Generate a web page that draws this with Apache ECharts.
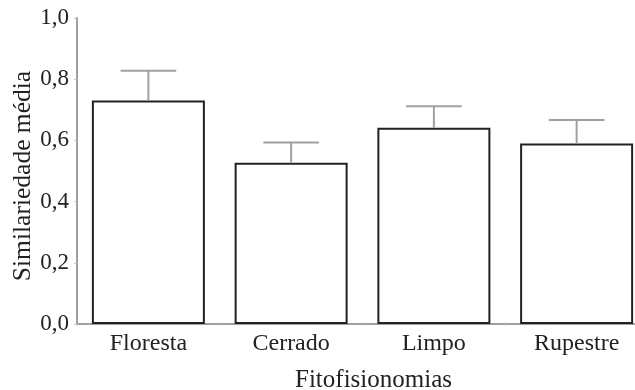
<!DOCTYPE html>
<html>
<head>
<meta charset="utf-8">
<script src="https://cdn.jsdelivr.net/npm/echarts@6/dist/echarts.min.js"></script>
<style>
  html, body { margin: 0; padding: 0; background: #fff; }
  #chart { width: 635px; height: 390px; }
</style>
</head>
<body>
<div id="chart"></div>
<script>
// Mean similarity per vegetation type, with the upper error bar length
const categories = ['Floresta', 'Cerrado', 'Limpo', 'Rupestre'];
const means = [0.730, 0.527, 0.641, 0.590];
const errors = [0.098, 0.066, 0.071, 0.077];
const yTickLabels = ['0,0', '0,2', '0,4', '0,6', '0,8', '1,0'];

const FONT = 'Liberation Serif';
const AXIS_GRAY = '#a0a0a0';

const errorData = categories.map((c, i) => [i, means[i], means[i] + errors[i]]);

const chart = echarts.init(document.getElementById('chart'), null, { renderer: 'canvas' });

chart.setOption({
  animation: false,
  backgroundColor: '#ffffff',
  grid: {
    left: 77, right: -13, top: 18, bottom: 66,
    containLabel: false, outerBoundsMode: 'none'
  },
  xAxis: {
    type: 'category',
    data: categories,
    name: 'Fitofisionomias',
    nameLocation: 'middle',
    nameGap: 44,
    nameTextStyle: { fontFamily: FONT, fontSize: 25, color: '#222', padding: [0, 0, 0, 22] },
    axisLine: { lineStyle: { color: AXIS_GRAY, width: 2 } },
    axisTick: { show: true, length: 2, lineStyle: { color: '#c8c8c8', width: 1 } },
    axisLabel: { fontFamily: FONT, fontSize: 24, color: '#222', margin: 8 }
  },
  yAxis: {
    type: 'value',
    min: 0,
    max: 1,
    interval: 0.2,
    name: 'Similariedade média',
    nameLocation: 'middle',
    nameMoveOverlap: false,
    nameGap: 41,
    nameTextStyle: { fontFamily: FONT, fontSize: 25.5, color: '#222', padding: [0, 10, 0, 0] },
    axisLine: { show: true, lineStyle: { color: AXIS_GRAY, width: 2 } },
    axisTick: { show: true, length: 3, inside: false, lineStyle: { color: '#c8c8c8', width: 1 } },
    splitLine: { show: false },
    axisLabel: {
      fontFamily: FONT, fontSize: 23, color: '#222', margin: 8, padding: [3, 0, 0, 0],
      formatter: (v) => yTickLabels[Math.round(v / 0.2)]
    }
  },
  series: [
    {
      type: 'bar',
      data: means,
      barWidth: 113,
      itemStyle: { color: '#ffffff', borderColor: '#222222', borderWidth: 2 },
      z: 2
    },
    {
      type: 'custom',
      data: errorData,
      z: 3,
      renderItem: function (params, api) {
        const x = api.value(0);
        const base = api.coord([x, api.value(1)]);
        const top = api.coord([x, api.value(2)]);
        const half = api.size([1, 0])[0] * 0.195;
        const style = { stroke: '#a0a0a0', lineWidth: 2 };
        return {
          type: 'group',
          children: [
            { type: 'line', shape: { x1: top[0], y1: base[1], x2: top[0], y2: top[1] }, style },
            { type: 'line', shape: { x1: top[0] - half, y1: top[1], x2: top[0] + half, y2: top[1] }, style }
          ]
        };
      }
    }
  ]
});
</script>
</body>
</html>
